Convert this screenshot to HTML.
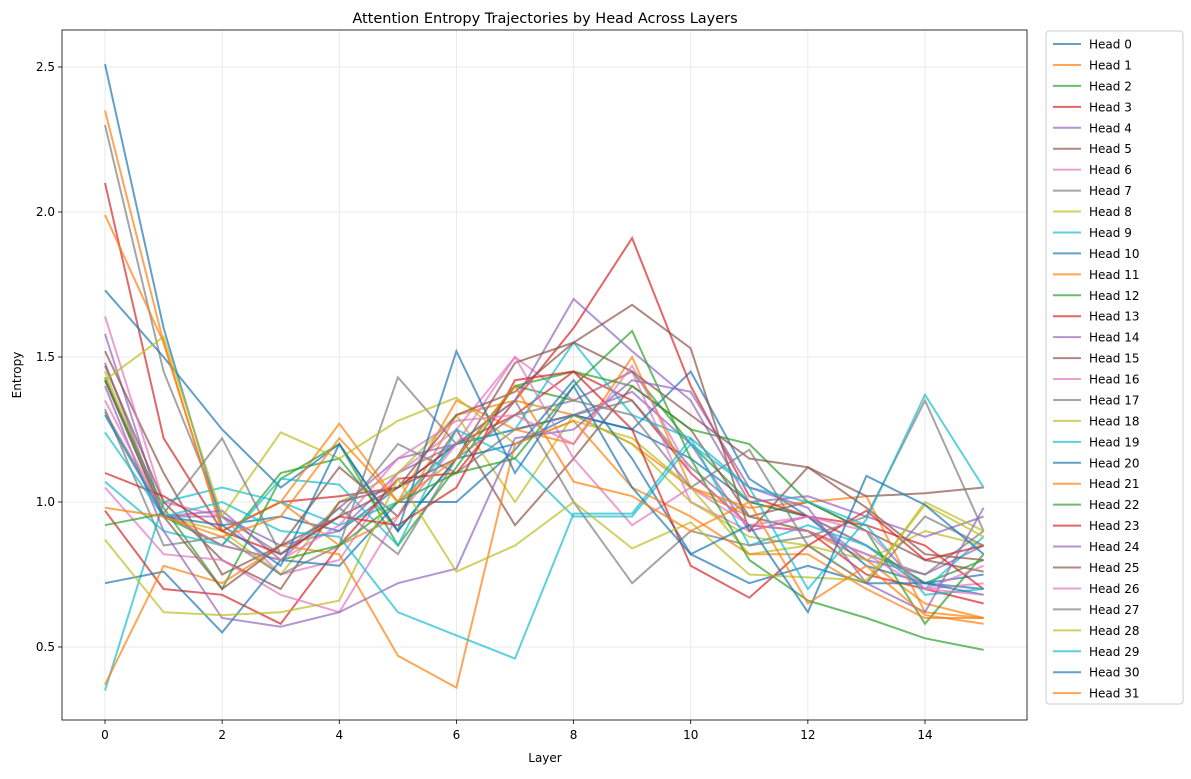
<!DOCTYPE html>
<html><head><meta charset="utf-8"><style>
body{margin:0;background:#fff;font-family:"Liberation Sans","DejaVu Sans",sans-serif;}
svg text{font-family:"DejaVu Sans","Liberation Sans",sans-serif;}
</style></head><body>
<svg id="chart" width="1191" height="774" xmlns="http://www.w3.org/2000/svg">
<rect width="1191" height="774" fill="#fff"/>
<g id="grid"></g>
<g id="lines"></g>
<rect x="62" y="30" width="965" height="690" fill="none" stroke="#000" stroke-width="0.8"/>
<g id="axes"></g>
<text x="545" y="23" text-anchor="middle" font-size="14.5">Attention Entropy Trajectories by Head Across Layers</text>
<text x="545" y="762" text-anchor="middle" font-size="12">Layer</text>
<text x="21" y="375" text-anchor="middle" font-size="12" transform="rotate(-90 21 375)">Entropy</text>
<g id="legend"></g>
</svg>
<script>
const layers=[0,1,2,3,4,5,6,7,8,9,10,11,12,13,14,15];
const xTicks=[0,2,4,6,8,10,12,14];
const yTicks=[0.5,1.0,1.5,2.0,2.5];
const yTickLabels=["0.5","1.0","1.5","2.0","2.5"];
const colors=["#1f77b4","#ff7f0e","#2ca02c","#d62728","#9467bd","#8c564b","#e377c2","#7f7f7f","#bcbd22","#17becf"];
const h0=[2.51,1.6,0.92,0.95,0.9,1.05,1.2,1.25,1.3,1.25,1.15,1.0,0.95,0.85,0.72,0.7];
const h1=[2.35,1.55,0.9,1.0,0.85,0.95,1.3,1.35,1.3,1.2,1.05,0.95,0.9,0.8,0.65,0.6];
const h2=[1.43,0.95,0.85,1.1,1.15,0.9,1.15,1.4,1.35,1.45,1.2,1.0,0.95,0.85,0.72,0.8];
const h3=[2.1,1.22,0.9,1.0,1.02,1.05,1.2,1.3,1.45,1.35,1.1,0.92,0.9,0.75,0.7,0.65];
const h4=[1.58,0.95,0.95,0.85,0.9,1.1,1.2,1.25,1.3,1.38,1.2,0.9,0.95,0.8,0.75,0.85];
const h5=[1.52,1.1,0.75,0.85,1.12,0.95,1.25,0.92,1.15,1.4,1.25,0.95,1.0,0.9,0.8,0.76];
const h6=[1.64,1.0,0.95,0.75,0.8,1.1,1.25,1.5,1.35,1.45,1.0,0.9,0.95,0.85,0.7,0.72];
const h7=[2.3,1.45,0.95,0.82,0.95,1.2,1.1,1.25,1.3,1.35,1.12,0.95,0.9,0.82,0.75,0.9];
const h8=[1.45,0.95,0.9,0.75,1.0,1.1,1.3,1.0,1.3,1.2,1.0,0.88,0.85,0.8,0.9,0.85];
const h9=[0.35,1.0,1.05,1.0,0.92,1.0,1.2,1.25,1.55,1.3,1.22,0.85,0.92,0.85,0.7,0.88];
const h10=[1.73,1.5,1.25,1.05,1.2,0.9,1.15,1.2,1.3,1.25,1.45,1.08,0.95,0.78,0.72,0.75];
const h11=[1.99,1.55,0.9,1.0,1.27,1.0,1.35,1.25,1.2,1.5,1.05,0.98,1.0,1.02,0.62,0.6];
const h12=[1.42,0.98,0.7,1.08,1.2,0.85,1.12,1.4,1.45,1.4,1.25,1.2,1.0,0.9,0.58,0.82];
const h13=[0.97,0.7,0.68,0.58,0.85,1.08,1.1,1.35,1.6,1.91,1.4,1.02,0.95,0.92,0.85,0.7];
const h14=[1.48,0.95,0.97,0.8,0.98,1.15,1.2,1.35,1.7,1.52,1.35,1.0,1.02,0.95,0.88,0.95];
const h15=[1.47,1.0,0.8,0.7,1.0,1.05,1.15,1.48,1.55,1.45,1.3,1.15,1.12,1.02,1.03,1.05];
const h16=[1.05,0.82,0.8,0.68,0.62,0.95,1.2,1.5,1.15,0.92,1.05,0.92,0.9,0.82,0.7,0.78];
const h17=[1.32,0.85,0.88,0.75,0.85,1.43,1.2,1.35,1.0,0.72,0.9,0.85,0.88,0.95,1.35,0.9];
const h18=[1.42,1.57,0.95,1.24,1.15,1.28,1.36,1.2,1.28,1.22,1.05,0.82,0.85,0.72,1.0,0.9];
const h19=[1.07,0.9,0.85,1.08,1.06,0.85,1.25,1.15,0.95,0.95,1.2,1.05,1.0,0.92,0.68,0.7];
const h20=[0.72,0.76,0.55,0.8,0.78,1.0,1.0,1.18,1.42,1.15,0.82,0.72,0.78,0.72,0.72,0.68];
const h21=[0.37,0.78,0.72,0.85,0.82,0.47,0.36,1.2,1.28,1.05,0.95,0.82,0.82,0.7,0.6,0.6];
const h22=[0.92,0.96,0.85,0.8,0.85,1.0,1.1,1.15,1.4,1.59,1.15,0.8,0.66,0.6,0.53,0.49];
const h23=[1.1,1.02,0.9,0.82,0.95,0.92,1.05,1.42,1.45,1.25,0.78,0.67,0.85,0.97,0.8,0.85];
const h24=[1.4,0.9,0.6,0.57,0.62,0.72,0.77,1.22,1.25,1.42,1.38,1.05,0.98,0.72,0.62,0.98];
const h25=[1.42,0.95,0.7,0.85,0.95,1.05,1.3,1.38,1.55,1.68,1.53,0.9,1.12,0.98,0.82,0.8];
const h26=[1.35,0.96,0.85,0.8,0.92,1.15,1.28,1.3,1.2,1.47,1.1,0.92,0.95,0.9,0.7,0.68];
const h27=[1.31,0.96,1.22,0.82,0.98,0.82,1.15,1.3,1.35,1.3,1.05,1.18,0.85,0.72,0.95,0.85];
const h28=[0.87,0.62,0.61,0.62,0.66,1.08,0.76,0.85,1.0,0.84,0.93,0.75,0.74,0.73,0.99,0.88];
const h29=[1.24,0.95,1.0,0.9,0.88,0.62,0.54,0.46,0.96,0.96,1.22,1.05,0.7,0.94,1.37,1.05];
const h30=[1.3,0.95,0.92,0.78,1.2,0.9,1.52,1.1,1.4,1.05,0.82,0.92,0.62,1.09,0.99,0.82];
const h31=[0.98,0.95,0.88,0.95,1.22,1.0,1.15,1.4,1.07,1.02,0.9,1.0,0.65,0.78,0.61,0.58];
const series=[h0,h1,h2,h3,h4,h5,h6,h7,h8,h9,h10,h11,h12,h13,h14,h15,h16,h17,h18,h19,h20,h21,h22,h23,h24,h25,h26,h27,h28,h29,h30,h31];
const NS="http://www.w3.org/2000/svg";
const xs=v=>105+v*(820/14);
const ys=v=>647-(v-0.5)*290;
function mk(t,a,p){const e=document.createElementNS(NS,t);for(const k in a)e.setAttribute(k,a[k]);p.appendChild(e);return e;}
const grid=document.getElementById('grid'),axes=document.getElementById('axes');
xTicks.forEach(t=>{
  const g=mk('line',{x1:xs(t),x2:xs(t),y1:30,y2:720,stroke:'#e5e5e5','stroke-width':0.8},grid);
  
  
  const tk=mk('line',{x1:xs(t),x2:xs(t),y1:720,y2:724,stroke:'#000','stroke-width':0.8},axes);
  
  
  const tx=mk('text',{x:xs(t),y:739,'text-anchor':'middle','font-size':12},axes);
  tx.textContent=String(t);
  
  
});
yTicks.forEach((t,i)=>{
  const g=mk('line',{x1:62,x2:1027,y1:ys(t),y2:ys(t),stroke:'#e5e5e5','stroke-width':0.8},grid);
  
  
  const tk=mk('line',{x1:58,x2:62,y1:ys(t),y2:ys(t),stroke:'#000','stroke-width':0.8},axes);
  
  
  const tx=mk('text',{x:55,y:ys(t)+4,'text-anchor':'end','font-size':12},axes);
  tx.textContent=yTickLabels[i];
  
  
});
const lines=document.getElementById('lines');
series.forEach((s,i)=>{
  const pts=s.map((v,j)=>xs(layers[j]).toFixed(1)+','+ys(v).toFixed(1)).join(' ');
  const p=mk('polyline',{points:pts,fill:'none',stroke:colors[i%10],'stroke-width':2,'stroke-opacity':0.7},lines);
  
  
});
const lg=document.getElementById('legend');
const box=mk('rect',{x:1046,y:31,width:137,height:673,fill:'#fff',stroke:'#ccc',rx:3},lg);


series.forEach((s,i)=>{
  const y=44+i*20.94;
  const l=mk('line',{x1:1053,x2:1081,y1:y,y2:y,stroke:colors[i%10],'stroke-width':2,'stroke-opacity':0.7},lg);
  
  
  const t=mk('text',{x:1089,y:y+4.5,'font-size':12},lg);
  t.textContent='Head '+i;
  
  
});
</script>
</body></html>
